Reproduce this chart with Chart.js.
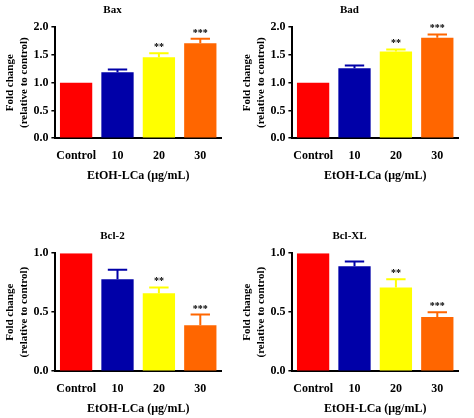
<!DOCTYPE html>
<html><head><meta charset="utf-8">
<script src="https://cdn.jsdelivr.net/npm/chart.js@4"></script>
<style>
body{margin:0;background:#fff;width:474px;height:418px;position:relative;overflow:hidden}
.p{position:absolute}
</style></head><body>
<div class="p" style="left:0;top:0;width:237px;height:185px"><canvas id="c1"></canvas></div>
<div class="p" style="left:237px;top:0;width:237px;height:185px"><canvas id="c2"></canvas></div>
<div class="p" style="left:0;top:226px;width:237px;height:192px"><canvas id="c3"></canvas></div>
<div class="p" style="left:237px;top:226px;width:237px;height:192px"><canvas id="c4"></canvas></div>
<script>
const categories = ["Control", "10", "20", "30"];
const colors = ["#ff0000", "#0000a8", "#ffff00", "#ff6600"];
const baxValues = [1.0, 1.19, 1.46, 1.71];
const baxErr = [0, 0.05, 0.07, 0.08];
const badValues = [1.0, 1.26, 1.56, 1.81];
const badErr = [0, 0.05, 0.04, 0.06];
const bcl2Values = [1.0, 0.78, 0.66, 0.39];
const bcl2Err = [0, 0.08, 0.05, 0.09];
const bclxlValues = [1.0, 0.89, 0.71, 0.46];
const bclxlErr = [0, 0.04, 0.07, 0.04];
const sigLabels = ["", "", "**", "***"];

const font = "Liberation Serif";

// draws the upper error bar and significance stars above each bar
const errorPlugin = {
    id: "errorBars",
    afterDatasetsDraw(chart, args, opts) {
        const ctx = chart.ctx;
        const meta = chart.getDatasetMeta(0);
        const y = chart.scales.y;
        meta.data.forEach((bar, i) => {
            const v = chart.data.datasets[0].data[i];
            const e = opts.err[i];
            const top = y.getPixelForValue(v + e);
            ctx.save();
            ctx.strokeStyle = colors[i];
            ctx.lineWidth = 2;
            if (e > 0) {
                ctx.beginPath();
                ctx.moveTo(bar.x, bar.y);
                ctx.lineTo(bar.x, top);
                ctx.moveTo(bar.x - bar.width * 0.3, top);
                ctx.lineTo(bar.x + bar.width * 0.3, top);
                ctx.stroke();
            }
            if (sigLabels[i]) {
                ctx.fillStyle = "#000";
                ctx.font = "bold 10px '" + font + "'";
                ctx.textAlign = "center";
                ctx.fillText(sigLabels[i], bar.x, top - 3);
            }
            ctx.restore();
        });
    }
};

function makeChart(id, title, values, err, max, step) {
    return new Chart(document.getElementById(id), {
        type: "bar",
        data: {
            labels: categories,
            datasets: [{ data: values, backgroundColor: colors, categoryPercentage: 0.78, barPercentage: 1 }]
        },
        options: {
            responsive: true,
            maintainAspectRatio: false,
            animation: false,
            layout: { padding: { top: 2, right: 16, left: 4 } },
            plugins: {
                legend: { display: false },
                tooltip: { enabled: false },
                title: { display: true, text: title, color: "#000", font: { family: font, size: 11, weight: "bold" }, padding: { top: 2, bottom: 10 } },
                errorBars: { err: err }
            },
            scales: {
                x: {
                    grid: { display: false },
                    border: { color: "#000", width: 2 },
                    ticks: { color: "#000", font: { family: font, size: 12, weight: "bold" }, padding: 3, maxRotation: 0, minRotation: 0, autoSkip: false },
                    title: { display: true, text: "EtOH-LCa (μg/mL)", color: "#000", font: { family: font, size: 12, weight: "bold" }, padding: 2 }
                },
                y: {
                    min: 0, max: max,
                    grid: { drawOnChartArea: false, color: "#000", tickLength: 4, lineWidth: 1.5 },
                    border: { color: "#000", width: 2 },
                    ticks: { stepSize: step, color: "#000", font: { family: font, size: 12, weight: "bold" }, callback: v => v.toFixed(1) },
                    title: { display: true, text: ["Fold change", "(relative to control)"], color: "#000", font: { family: font, size: 11, weight: "bold" }, padding: 0 }
                }
            }
        },
        plugins: [errorPlugin]
    });
}

makeChart("c1", "Bax", baxValues, baxErr, 2.0, 0.5);
makeChart("c2", "Bad", badValues, badErr, 2.0, 0.5);
makeChart("c3", "Bcl-2", bcl2Values, bcl2Err, 1.0, 0.5);
makeChart("c4", "Bcl-XL", bclxlValues, bclxlErr, 1.0, 0.5);
</script>
</body></html>
